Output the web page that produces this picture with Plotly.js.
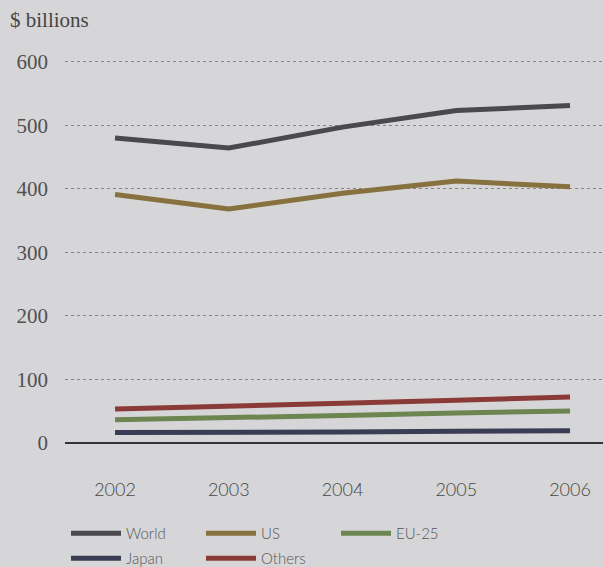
<!DOCTYPE html>
<html>
<head>
<meta charset="utf-8">
<script src="https://cdn.plot.ly/plotly-3.0.1.min.js"></script>
<style>
  html, body { margin: 0; padding: 0; background: #d6d6d8; }
  #chart { width: 603px; height: 567px; }
</style>
</head>
<body>
<div id="chart"></div>
<script>
const years = [2002, 2003, 2004, 2005, 2006];
const world = [480, 464, 497, 523, 531];
const us = [391, 368, 393, 412, 403];
const eu25 = [36, 39, 43, 47, 50];
const japan = [16, 16, 17, 18, 19];
const others = [53, 57, 62, 67, 72];
const yTicks = [0, 100, 200, 300, 400, 500, 600];

const seriesNames = ['World', 'US', 'EU-25', 'Japan', 'Others'];
const seriesValues = [world, us, eu25, japan, others];
const seriesColors = ['#49494e', '#87713f', '#6d8550', '#3b3d54', '#8a3a37'];
const seriesLegend = ['legend', 'legend', 'legend', 'legend2', 'legend2'];

const traces = seriesNames.map((name, i) => ({
  type: 'scatter',
  mode: 'lines',
  name: name,
  x: years,
  y: seriesValues[i],
  line: { color: seriesColors[i], width: 5 },
  legend: seriesLegend[i],
  hoverinfo: 'skip'
}));

const legendFont = { family: 'Lato, "Open Sans", sans-serif', size: 15, color: '#555', weight: 300 };
const serifFont = '"Liberation Serif", "DejaVu Serif", serif';

const layout = {
  width: 603,
  height: 567,
  paper_bgcolor: '#d6d6d8',
  plot_bgcolor: '#d6d6d8',
  margin: { l: 65, r: 0, t: 49, b: 123 },
  showlegend: true,
  xaxis: {
    range: [2001.56, 2006.29],
    tickvals: years,
    ticktext: years.map(String),
    showgrid: false,
    zeroline: false,
    showline: false,
    ticks: '',
    ticklabelstandoff: 33,
    tickfont: { family: 'Lato, "Open Sans", sans-serif', size: 18, color: '#454545', weight: 300 }
  },
  yaxis: {
    range: [-2, 620],
    tickvals: yTicks,
    ticktext: yTicks.map(String),
    showgrid: true,
    gridcolor: '#86868a',
    gridwidth: 1,
    griddash: 'dot',
    zeroline: true,
    zerolinecolor: '#333336',
    zerolinewidth: 2,
    showline: false,
    ticks: '',
    ticklabelstandoff: 16,
    tickfont: { family: serifFont, size: 21, color: '#505050' }
  },
  legend: {
    orientation: 'h',
    xref: 'container', yref: 'container',
    x: 66 / 603, y: 1 - 517 / 567,
    xanchor: 'left', yanchor: 'top',
    bgcolor: 'rgba(0,0,0,0)',
    itemwidth: 50,
    entrywidth: 70, entrywidthmode: 'pixels',
    font: legendFont,
    traceorder: 'normal'
  },
  legend2: {
    orientation: 'h',
    xref: 'container', yref: 'container',
    x: 66 / 603, y: 1 - 542 / 567,
    xanchor: 'left', yanchor: 'top',
    bgcolor: 'rgba(0,0,0,0)',
    itemwidth: 50,
    entrywidth: 70, entrywidthmode: 'pixels',
    font: legendFont,
    traceorder: 'normal'
  },
  annotations: [{
    text: '$ billions',
    xref: 'paper', yref: 'paper',
    x: -57 / 538, y: 1 + 29 / 395,
    xanchor: 'left', yanchor: 'middle',
    showarrow: false,
    font: { family: serifFont, size: 21, color: '#454545' }
  }]
};

Plotly.newPlot('chart', traces, layout, { displayModeBar: false, staticPlot: true });
</script>
</body>
</html>
